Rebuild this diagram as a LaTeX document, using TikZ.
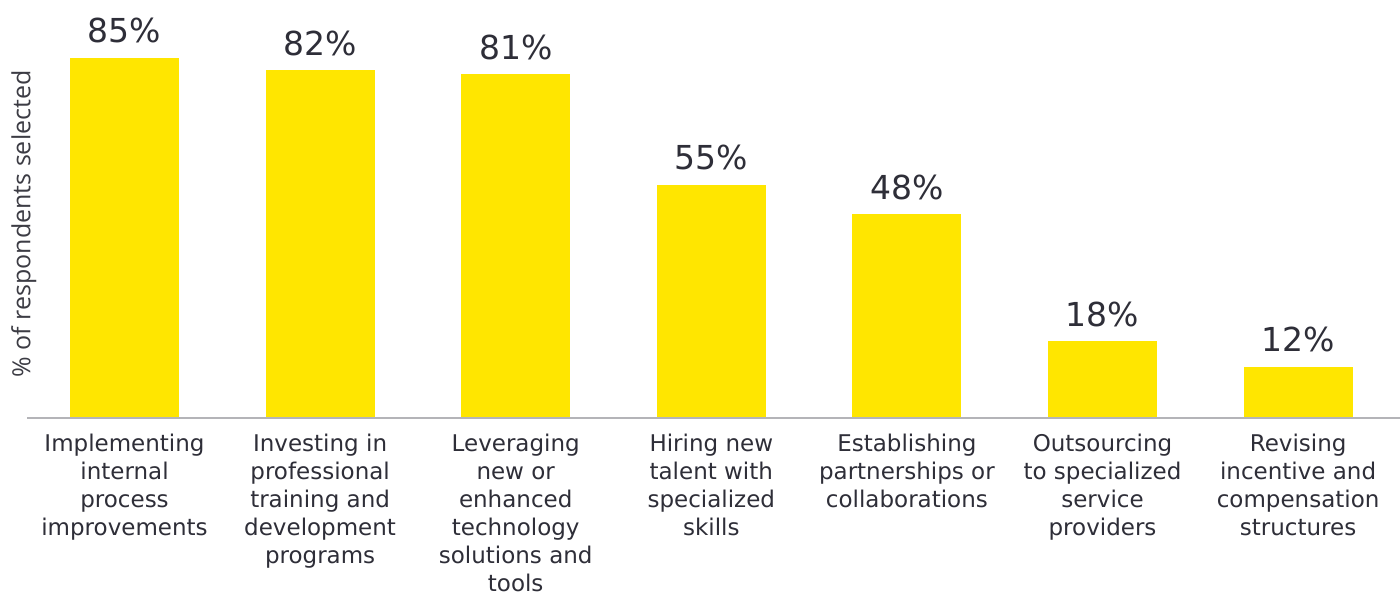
\documentclass[tikz,border=0pt]{standalone}
\usepackage{fontspec}
\setmainfont{DejaVu Sans}
\newfontfamily\axisfont{Open Sans}
\definecolor{eyyellow}{HTML}{FFE600}
\definecolor{eytext}{HTML}{2E2E38}
\definecolor{axisgray}{HTML}{B4B4B8}
\definecolor{ylabgray}{HTML}{3C3C44}
\tikzset{
  bar/.style={fill=eyyellow, draw=none},
  pct/.style={anchor=base, inner sep=0pt, text=eytext, font=\fontsize{33}{36}\selectfont},
  cat/.style={anchor=north, inner sep=0pt, align=center, text=eytext, font=\fontsize{23}{28}\selectfont},
}
\begin{document}
\begin{tikzpicture}[x=1pt,y=-1pt]
\useasboundingbox (0,0) rectangle (1400,594);
\fill[white] (0,0) rectangle (1400,594);
% bars
\foreach \i/\p/\lab in {0/85/a,1/82/b,2/81/c,3/55/d,4/48/e,5/18/f,6/12/g}{
  \pgfmathsetmacro{\xl}{70+195.6*\i}
  \pgfmathsetmacro{\xr}{\xl+109}
  \pgfmathsetmacro{\yt}{417.5-4.235*\p}
  \fill[bar] (\xl,\yt) rectangle (\xr,417.5);
  \pgfmathsetmacro{\xc}{\xl+54.5}
  \pgfmathsetmacro{\yb}{\yt-15}
  \node[pct] (p\lab) at (\xc,\yb) {\p\%};
}
% axis
\coordinate (axL) at (27,417.5);
\coordinate (axR) at (1400,417.5);
\draw[axisgray, line width=2pt] (axL) -- (axR);
% y label
\node[rotate=90, anchor=south, inner sep=0pt, text=ylabgray, font=\axisfont\fontsize{25}{28}\selectfont] (ylab) at (36.5,224) {\% of respondents selected};
% category labels
\node[cat] (c1) at (124.5,433.5) {Implementing\\internal\\process\\improvements};
\node[cat] (c2) at (320.1,433.5) {Investing in\\professional\\training and\\development\\programs};
\node[cat] (c3) at (515.7,433.5) {Leveraging\\new or\\enhanced\\technology\\solutions and\\tools};
\node[cat] (c4) at (711.3,433.5) {Hiring new\\talent with\\specialized\\skills};
\node[cat] (c5) at (906.9,433.5) {Establishing\\partnerships or\\collaborations};
\node[cat] (c6) at (1102.5,433.5) {Outsourcing\\to specialized\\service\\providers};
\node[cat] (c7) at (1298.1,433.5) {Revising\\incentive and\\compensation\\structures};
\end{tikzpicture}
\end{document}
